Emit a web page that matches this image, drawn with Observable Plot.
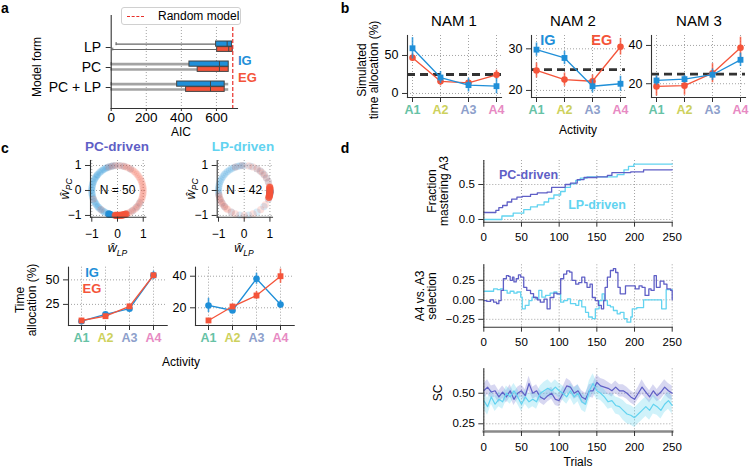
<!DOCTYPE html>
<html><head><meta charset="utf-8">
<script src="https://cdn.jsdelivr.net/npm/d3@7"></script>
<script src="https://cdn.jsdelivr.net/npm/@observablehq/plot@0.6"></script>
<style>
body{margin:0;background:#fff;}
#root{position:relative;width:750px;height:468px;overflow:hidden;background:#fff;font-family:"Liberation Sans",Arial,Helvetica,sans-serif;color:#000;}
.lbl{position:absolute;white-space:nowrap;line-height:1.05;}
</style></head><body><div id="root"></div>
<script>
// ---------------- DATA ----------------
// Panel a: AIC box statistics per model form
const models = ["LP", "PC", "PC + LP"];
const aicIG_lo  = [28, 0, 0];
const aicIG_q1  = [598, 446, 376];
const aicIG_med = [661, 617, 566];
const aicIG_q3  = [689, 670, 647];
const aicIG_hi  = [689, 670, 670];
const aicEG_lo  = [9, 0, 0];
const aicEG_q1  = [604, 493, 427];
const aicEG_med = [670, 617, 566];
const aicEG_q3  = [693, 670, 647];
const aicEG_hi  = [693, 670, 670];
const aicTicks = [0, 200, 400, 600];
const randomModelAIC = 693;

// Panel b: simulated time allocation (%) for NAM 1-3
const activities = ["A1", "A2", "A3", "A4"];
const activityColors = ["#66c2a5", "#cdd15c", "#8da0cb", "#e78ac3"];
const namTitles = ["NAM 1", "NAM 2", "NAM 3"];
const namIG    = [[59.5, 21, 11, 9.6], [29.8, 27.8, 21, 21.6], [21.7, 22.4, 24.7, 32.5]];
const namIGerr = [[14, 8, 9, 10], [1.6, 1.6, 1.6, 1.8], [2.5, 2, 3, 3.5]];
const namEG    = [[47, 16, 14, 24.6], [24.8, 22.6, 22.2, 30.5], [18.6, 19, 25.5, 38.8]];
const namEGerr = [[5, 6, 4, 6], [1.8, 1.6, 1.5, 2], [5, 5, 5, 5.5]];
const namYTicks = [[0, 50], [20, 30], [20, 40]];
const chanceLevel = 25;

// Panel c (top): normalized weights, angles in degrees on the unit circle
const pcRingIG = [60, 75, 85, 95, 100, 104, 108, 112, 115, 118, 122, 125, 128, 132, 135, 140, 142, 145, 148, 152, 155, 160, 162, 166, 170, 174, 178, 180, 185, 188, 192, 196, 200, 205, 208, 212, 215, 220, 222, 226, 230, 234, 238, 240, 245, 262, 268, 275, 290, 305, 318, 330];
const pcRingEG = [0, 5, 10, 15, 20, 25, 30, 35, 40, 45, 50, 55, 60, 65, 70, 75, 80, 88, 95, 102, 110, -5, -10, -15, -20, -25, -30, -35, -40, -45, -50, -55, -60, -65, -70, 200, 230, 250];
const pcClusterIG = [250, 252, 254];
const pcClusterEG = [265, 268, 271, 274, 277, 280, 283, 286, 289];
const lpRingIG = [20, 30, 40, 50, 60, 75, 90, 95, 100, 105, 110, 115, 120, 125, 130, 135, 140, 145, 150, 155, 160, 165, 170, 175, 180, 185, 190, 200, 210, 220, 240, 260, 280, 300, 320, 340];
const lpRingEG = [10, 20, 30, 38, 45, 52, 60, 70, 80, 95, 110, 190, 195, 200, 205, 210, 215, 220, 225, 230, 240, 250, 270, 290, 310, 325, 340, 350];
const lpClusterIG = [352, 356, 359];
const lpClusterEG = [344, 348, 352, 356, 0, 4, 7];
const ringN = ["N = 50", "N = 42"];
const ringTicks = [-1, 0, 1];

// Panel c (bottom): time allocation (%) by group
const cIG    = [[7.9, 14.8, 20.6, 54.7], [21.5, 18.3, 38.4, 22.1]];
const cIGerr = [[1, 1, 1.5, 4], [4.5, 1.5, 3.5, 2.5]];
const cEG    = [[8.6, 13, 23, 54.7], [12, 20.8, 27.8, 40]];
const cEGerr = [[1, 1, 1.5, 2], [1, 1.5, 2.5, 4.5]];
const cYTicks = [[25, 50], [20, 40]];

// Panel d
const trialTicks = [0, 50, 100, 150, 200, 250];
const fracPC = [[0,0.10],[13,0.10],[16,0.13],[20,0.17],[25,0.20],[31,0.25],[37,0.29],[44,0.32],[51,0.33],[62,0.36],[71,0.38],[84,0.39],[90,0.46],[102,0.46],[108,0.50],[115,0.52],[124,0.57],[133,0.60],[150,0.61],[164,0.63],[170,0.67],[195,0.68],[212,0.71],[250,0.71]];
const fracLP = [[0,0],[23,0],[24,0.05],[39,0.09],[53,0.14],[62,0.18],[71,0.21],[80,0.25],[86,0.30],[93,0.35],[102,0.40],[108,0.46],[115,0.51],[122,0.56],[128,0.59],[137,0.61],[150,0.61],[168,0.61],[177,0.64],[186,0.71],[192,0.76],[199,0.79],[250,0.79]];
const selPC = [[0,-0.01],[4,-0.02],[9,0.0],[13,-0.03],[17,-0.05],[20,-0.01],[23,0.12],[26,0.27],[30,0.31],[33,0.30],[35,0.25],[38,0.29],[40,0.23],[43,0.27],[46,0.32],[49,0.29],[53,0.16],[57,0.12],[62,0.08],[66,0.03],[71,0.0],[75,-0.03],[80,0.01],[84,-0.115],[88,0.03],[93,0.085],[97,0.077],[102,0.27],[106,0.33],[110,0.37],[114,0.355],[117,0.25],[122,0.2],[126,0.22],[130,0.29],[134,0.22],[137,0.16],[141,0.2],[144,0.03],[148,-0.01],[152,-0.07],[156,-0.115],[159,-0.01],[161,0.16],[164,0.29],[168,0.376],[172,0.40],[175,0.35],[178,0.16],[181,0.077],[185,0.077],[188,0.18],[197,0.18],[201,0.14],[206,0.18],[210,0.16],[214,0.056],[219,0.14],[222,0.12],[226,0.31],[229,0.16],[234,0.24],[239,0.2],[243,0.14],[248,0.12],[250,0.0]];
const selLP = [[0,0.11],[13,0.14],[18,0.13],[22,0.14],[26,0.12],[31,0.085],[35,0.11],[40,0.085],[44,0.1],[49,0.034],[51,-0.115],[55,-0.07],[60,-0.01],[64,0.034],[69,0.013],[73,0.12],[77,0.034],[82,0.056],[88,0.085],[93,0.1],[97,0.077],[102,-0.03],[106,-0.01],[111,0.013],[115,-0.05],[122,-0.07],[126,-0.01],[130,-0.09],[135,-0.16],[139,-0.22],[144,-0.24],[148,-0.115],[153,-0.01],[157,0.077],[160,-0.01],[164,-0.07],[168,-0.09],[172,-0.137],[177,-0.18],[181,-0.16],[186,-0.24],[190,-0.286],[195,-0.22],[197,-0.115],[203,-0.1],[211,-0.1],[212,0],[235,0],[236,-0.115],[241,-0.115],[242,0.13],[250,0.13]];
const scTrials = [0,5,10,15,20,25,30,35,40,45,50,55,60,65,70,75,80,85,90,95,100,105,110,115,120,125,130,135,140,145,150,155,160,165,170,175,180,185,190,195,200,205,210,215,220,225,230,235,240,245,250];
const scPC = [0.52,0.55,0.51,0.52,0.47,0.51,0.47,0.52,0.45,0.50,0.52,0.48,0.58,0.50,0.52,0.47,0.45,0.48,0.50,0.45,0.44,0.50,0.56,0.55,0.50,0.52,0.47,0.45,0.52,0.52,0.59,0.56,0.55,0.54,0.52,0.55,0.52,0.52,0.50,0.47,0.45,0.50,0.55,0.51,0.47,0.52,0.48,0.51,0.55,0.52,0.50];
const scLP = [0.44,0.39,0.47,0.41,0.45,0.43,0.50,0.47,0.52,0.47,0.41,0.47,0.43,0.45,0.43,0.50,0.52,0.54,0.52,0.55,0.52,0.50,0.47,0.52,0.47,0.50,0.43,0.41,0.52,0.58,0.52,0.50,0.47,0.43,0.44,0.40,0.39,0.36,0.33,0.32,0.30,0.33,0.36,0.39,0.36,0.41,0.39,0.36,0.41,0.44,0.40];
const scSpreadPC = [0.06,0.06,0.05,0.05,0.05,0.05,0.05,0.05,0.05,0.05,0.05,0.05,0.06,0.05,0.05,0.05,0.05,0.05,0.05,0.05,0.05,0.05,0.06,0.05,0.05,0.05,0.05,0.05,0.05,0.06,0.06,0.06,0.06,0.05,0.05,0.05,0.05,0.05,0.05,0.05,0.05,0.05,0.06,0.05,0.05,0.05,0.05,0.06,0.06,0.06,0.06];
const scSpreadLP = [0.07,0.07,0.06,0.06,0.06,0.06,0.06,0.06,0.06,0.06,0.06,0.06,0.06,0.06,0.06,0.06,0.07,0.07,0.06,0.06,0.06,0.06,0.06,0.06,0.07,0.07,0.07,0.07,0.08,0.08,0.07,0.06,0.06,0.06,0.06,0.07,0.07,0.08,0.08,0.08,0.08,0.08,0.08,0.08,0.08,0.08,0.07,0.07,0.07,0.07,0.07];

// ---------------- STYLE ----------------
const W = 750, H = 468;
const FONT = '"Liberation Sans", Arial, Helvetica, sans-serif';
const IG_COLOR = "#1f8fd8", EG_COLOR = "#f4543a";
const PC_COLOR = "#5f5fc6", LP_COLOR = "#62d3f0";
const SPINE = "#333";
const GRID = {stroke: "#999", strokeOpacity: 1, strokeDasharray: "1,2", strokeWidth: 0.9};
const root = document.getElementById("root");

function frameBox(x0, y0, x1, y1) {
  return {width: W, height: H, marginLeft: x0, marginRight: W - x1, marginTop: y0, marginBottom: H - y1,
    style: {fontFamily: FONT, fontSize: "12px", background: "transparent", overflow: "visible"}};
}
function add(svg) {
  svg.style.position = "absolute"; svg.style.left = "0px"; svg.style.top = "0px";
  svg.style.background = "transparent";
  root.appendChild(svg);
}
function spines() {
  return [Plot.frame({anchor: "left", stroke: SPINE, strokeWidth: 1.1}), Plot.frame({anchor: "bottom", stroke: SPINE, strokeWidth: 1.1})];
}
function label(html, x, y, o = {}) {
  const d = document.createElement("div");
  d.className = "lbl";
  d.innerHTML = html;
  const tx = o.anchor === "start" ? "0" : o.anchor === "end" ? "-100%" : "-50%";
  d.style.left = x + "px"; d.style.top = y + "px";
  d.style.fontSize = (o.size || 11.5) + "px";
  d.style.fontWeight = o.weight || "normal";
  d.style.color = o.color || "#000";
  d.style.textAlign = "center";
  if (o.lh) d.style.lineHeight = o.lh + "px";
  d.style.transform = `translate(${tx},-50%) rotate(${o.rotate || 0}deg)`;
  root.appendChild(d);
}

// ---------------- PANEL a ----------------
const aIG = models.map((m, i) => ({model: m, lo: aicIG_lo[i], q1: aicIG_q1[i], med: aicIG_med[i], q3: aicIG_q3[i], hi: aicIG_hi[i]}));
const aEG = models.map((m, i) => ({model: m, lo: aicEG_lo[i], q1: aicEG_q1[i], med: aicEG_med[i], q3: aicEG_q3[i], hi: aicEG_hi[i]}));
const whiskW = d => d.model === "LP" ? 1.1 : 2.6;
const whiskC = d => d.model === "LP" ? "#666" : "#a3a3a3";
function boxMarks(rows, fill, dy, insetTop, insetBottom) {
  return [
    Plot.ruleY(rows, {y: "model", x1: "lo", x2: "q1", dy, stroke: whiskC, strokeWidth: whiskW}),
    Plot.ruleY(rows, {y: "model", x1: "q3", x2: "hi", dy, stroke: whiskC, strokeWidth: whiskW}),
    Plot.tickX(rows, {x: "lo", y: "model", stroke: "#666", strokeWidth: 1, insetTop: insetTop + 1, insetBottom: insetBottom + 1}),
    Plot.barX(rows, {x1: "q1", x2: "q3", y: "model", fill, stroke: "#444", strokeWidth: 1, insetTop, insetBottom}),
    Plot.tickX(rows, {x: "med", y: "model", stroke: "#444", strokeWidth: 1, insetTop, insetBottom})
  ];
}
add(Plot.plot({
  ...frameBox(110.7, 15, 237, 108),
  x: {domain: [0, 720], axis: null},
  y: {type: "band", domain: models, range: [36.5, 97.5], padding: 0, axis: null},
  marks: [
    Plot.gridX({ticks: aicTicks.slice(1), ...GRID}),
    ...boxMarks(aIG, IG_COLOR, -3.4, 4, 10.8),
    ...boxMarks(aEG, EG_COLOR, 2.0, 9.6, 5.6),
    Plot.ruleX([randomModelAIC], {stroke: "#e8302a", strokeWidth: 1.2, strokeDasharray: "4,2"}),
    ...spines(),
    Plot.axisX({ticks: aicTicks, tickSize: 3, tickPadding: 1, fontSize: 13.5, stroke: SPINE, label: null}),
    Plot.axisY({tickSize: 5, tickPadding: 5, fontSize: 14, stroke: SPINE, label: null})
  ]
}));

// ---------------- PANEL b ----------------
function activityPlot({x0, y0, x1, y1, ydom, yticks, ig, igErr, eg, egErr, igSym, egSym, chance, pad, egOnTop, labelDy}) {
  const igRows = activities.map((a, i) => ({a, v: ig[i], lo: ig[i] - igErr[i], hi: ig[i] + igErr[i]}));
  const egRows = activities.map((a, i) => ({a, v: eg[i], lo: eg[i] - egErr[i], hi: eg[i] + egErr[i]}));
  const series = (rows, color, sym) => [
    Plot.ruleX(rows, {x: "a", y1: "lo", y2: "hi", stroke: color, strokeWidth: 1.6, strokeOpacity: 0.85}),
    Plot.line(rows, {x: "a", y: "v", stroke: color, strokeWidth: 1.3}),
    Plot.dot(rows, {x: "a", y: "v", fill: color, symbol: sym, r: 3.3})
  ];
  const marks = [Plot.gridX({...GRID}), Plot.gridY({ticks: yticks, ...GRID})];
  if (chance != null) marks.push(Plot.ruleY([chance], {stroke: "#333", strokeWidth: 2.8, strokeDasharray: "8,5"}));
  if (egOnTop) marks.push(...series(igRows, IG_COLOR, igSym), ...series(egRows, EG_COLOR, egSym));
  else marks.push(...series(egRows, EG_COLOR, egSym), ...series(igRows, IG_COLOR, igSym));
  marks.push(
    ...spines(),
    Plot.axisY({ticks: yticks, tickSize: 5, tickPadding: 4, fontSize: 12.5, stroke: SPINE, label: null}),
    Plot.axisX({tickSize: 5, tickFormat: () => "", stroke: SPINE, label: null}),
    Plot.text(activities, {x: d => d, text: d => d, fill: (d, i) => activityColors[i], frameAnchor: "bottom", dy: labelDy, fontSize: 12.5, fontWeight: "bold"})
  );
  return Plot.plot({
    ...frameBox(x0, y0, x1, y1),
    x: {type: "point", domain: activities, padding: pad, axis: null, label: null},
    y: {domain: ydom, axis: null, label: null},
    marks
  });
}
const namFrames = [[407, 501, [-5.3, 76.3]], [531, 625, [18.3, 33.2]], [651, 745, [12.8, 45.2]]];
namFrames.forEach(([x0, x1, ydom], k) => {
  add(activityPlot({x0, y0: 35, x1, y1: 97, ydom, yticks: namYTicks[k], ig: namIG[k], igErr: namIGerr[k], eg: namEG[k], egErr: namEGerr[k],
    igSym: "square", egSym: "circle", chance: chanceLevel, pad: 0.15, egOnTop: false, labelDy: 16}));
});

// ---------------- PANEL c (top) ----------------
function ringPlot(x0, x1, ringIG, ringEG, clusterIG, clusterEG, nText) {
  const pts = arr => arr.map(a => ({x: Math.cos(a * Math.PI / 180), y: Math.sin(a * Math.PI / 180)}));
  return Plot.plot({
    ...frameBox(x0, 160, x1, 216.7),
    x: {domain: [-1.05, 1.1], axis: null, label: null},
    y: {domain: [-1.07, 1.2], axis: null, label: null},
    marks: [
      Plot.gridX({ticks: ringTicks, ...GRID}),
      Plot.gridY({ticks: ringTicks, ...GRID}),
      Plot.dot(pts(ringIG), {x: "x", y: "y", r: 3.6, fill: IG_COLOR, fillOpacity: 0.17}),
      Plot.dot(pts(ringEG), {x: "x", y: "y", r: 3.6, fill: EG_COLOR, fillOpacity: 0.17}),
      Plot.dot(pts(clusterIG), {x: "x", y: "y", r: 3.6, fill: IG_COLOR, fillOpacity: 0.85}),
      Plot.dot(pts(clusterEG), {x: "x", y: "y", r: 3.6, fill: EG_COLOR, fillOpacity: 0.85}),
      Plot.text([nText], {x: 0, y: 0, text: d => d, fontSize: 12}),
      ...spines(),
      Plot.axisX({ticks: ringTicks, tickFormat: "d", tickSize: 5, tickPadding: 7, fontSize: 12, stroke: SPINE, label: null}),
      Plot.axisY({ticks: ringTicks, tickFormat: "d", tickSize: 5, tickPadding: 4, fontSize: 12, stroke: SPINE, label: null})
    ]
  });
}
add(ringPlot(90, 145.3, pcRingIG, pcRingEG, pcClusterIG, pcClusterEG, ringN[0]));
add(ringPlot(216.7, 272, lpRingIG, lpRingEG, lpClusterIG, lpClusterEG, ringN[1]));

// ---------------- PANEL c (bottom) ----------------
add(activityPlot({x0: 68, y0: 266.7, x1: 166.7, y1: 325, ydom: [3.5, 62.9], yticks: cYTicks[0], ig: cIG[0], igErr: cIGerr[0], eg: cEG[0], egErr: cEGerr[0],
  igSym: "circle", egSym: "square", chance: null, pad: 0.5, egOnTop: true, labelDy: 16.7}));
add(activityPlot({x0: 195, y0: 266.7, x1: 293.7, y1: 325, ydom: [8.8, 45.7], yticks: cYTicks[1], ig: cIG[1], igErr: cIGerr[1], eg: cEG[1], egErr: cEGerr[1],
  igSym: "circle", egSym: "square", chance: null, pad: 0.5, egOnTop: true, labelDy: 16.7}));

// ---------------- PANEL d ----------------
function dPlot(y0, y1, ydom, yticks, fmt, marks, bottomThick) {
  return Plot.plot({
    ...frameBox(483.3, y0, 671.7, y1),
    x: {domain: [0, 250], axis: null, label: null},
    y: {domain: ydom, axis: null, label: null},
    marks: [
      Plot.gridX({ticks: trialTicks, ...GRID}),
      Plot.gridY({ticks: yticks, ...GRID}),
      ...marks,
      Plot.frame({anchor: "left", stroke: SPINE, strokeWidth: 1.1}),
      bottomThick ? Plot.frame({anchor: "bottom", stroke: "#8a8a8a", strokeWidth: 2.6}) : Plot.frame({anchor: "bottom", stroke: SPINE, strokeWidth: 1.1}),
      Plot.axisX({ticks: trialTicks, tickSize: 5, tickPadding: 6, fontSize: 11.5, stroke: SPINE, label: null}),
      Plot.axisY({ticks: yticks, tickFormat: fmt, tickSize: 5, tickPadding: 4, fontSize: 11.5, stroke: SPINE, label: null})
    ]
  });
}
const stepOpts = (c) => ({x: d => d[0], y: d => d[1], stroke: c, strokeWidth: 1.3, curve: "step-after"});
add(dPlot(160, 221.7, [-0.0386, 0.843], [0, 0.5], ".1f", [
  Plot.line(fracLP, stepOpts(LP_COLOR)),
  Plot.line(fracPC, stepOpts(PC_COLOR))
]));
add(dPlot(264.3, 326.7, [-0.351, 0.449], [-0.25, 0, 0.25], ".2f", [
  Plot.line(selLP, stepOpts(LP_COLOR)),
  Plot.line(selPC, stepOpts(PC_COLOR))
]));
const scRowsPC = scTrials.map((t, i) => ({t, v: scPC[i], lo: scPC[i] - scSpreadPC[i], hi: scPC[i] + scSpreadPC[i]}));
const scRowsLP = scTrials.map((t, i) => ({t, v: scLP[i], lo: scLP[i] - scSpreadLP[i], hi: scLP[i] + scSpreadLP[i]}));
add(dPlot(368.3, 431, [0.187, 0.70], [0.25, 0.5], ".2f", [
  Plot.areaY(scRowsPC, {x: "t", y1: "lo", y2: "hi", fill: PC_COLOR, fillOpacity: 0.25}),
  Plot.areaY(scRowsLP, {x: "t", y1: "lo", y2: "hi", fill: LP_COLOR, fillOpacity: 0.3}),
  Plot.line(scRowsPC, {x: "t", y: "v", stroke: PC_COLOR, strokeWidth: 1.2}),
  Plot.line(scRowsLP, {x: "t", y: "v", stroke: LP_COLOR, strokeWidth: 1.2})
], true));

// ---------------- TEXT ----------------
// panel letters
label("a", 5, 8, {size: 14, weight: "bold"});
label("b", 345, 8, {size: 14, weight: "bold"});
label("c", 5, 148, {size: 14, weight: "bold"});
label("d", 345, 148, {size: 14, weight: "bold"});
// panel a
const leg = document.createElement("div");
leg.style.cssText = "position:absolute;left:121px;top:6.5px;width:120px;height:18px;border:1px solid #d0d0d0;border-radius:3px;box-sizing:border-box;background:#fff;";
leg.innerHTML = '<div style="position:absolute;left:5px;top:8px;width:17px;border-top:1.3px dashed #e8302a;"></div><div style="position:absolute;left:36px;top:1.5px;font-size:12px;">Random model</div>';
root.appendChild(leg);
label("Model form", 36.7, 66.7, {size: 12, rotate: -90});
label("AIC", 181, 132, {size: 12});
label("IG", 238, 61, {size: 13, weight: "bold", color: IG_COLOR, anchor: "start"});
label("EG", 238, 77.5, {size: 13, weight: "bold", color: EG_COLOR, anchor: "start"});
// panel b
label(namTitles[0], 454, 21, {size: 15});
label(namTitles[1], 573, 21, {size: 15});
label(namTitles[2], 699, 21, {size: 15});
label("Simulated<br>time allocation (%)", 367.5, 70, {size: 12, rotate: -90, lh: 12});
label("Activity", 578, 130, {size: 12});
label("IG", 548, 41, {size: 14.5, weight: "bold", color: IG_COLOR});
label("EG", 601.7, 41, {size: 14.5, weight: "bold", color: EG_COLOR});
// panel c
label("PC-driven", 117, 147, {size: 13.5, weight: "bold", color: PC_COLOR});
label("LP-driven", 243, 147, {size: 13.5, weight: "bold", color: LP_COLOR});
const wPC = '<i>ŵ</i><sub style="font-size:8.5px"><i>PC</i></sub>';
const wLP = '<i>ŵ</i><sub style="font-size:8.5px"><i>LP</i></sub>';
label(wPC, 66, 189, {size: 13, rotate: -90});
label(wPC, 192, 189, {size: 13, rotate: -90});
label(wLP, 117.5, 250, {size: 12.5});
label(wLP, 244, 250, {size: 12.5});
label("IG", 92, 273, {size: 13, weight: "bold", color: IG_COLOR});
label("EG", 92, 288.5, {size: 13, weight: "bold", color: EG_COLOR});
label("Time<br>allocation (%)", 26, 300, {size: 12, rotate: -90, lh: 12});
label("Activity", 181, 362, {size: 12});
// panel d
label("PC-driven", 528.5, 176, {size: 12.5, weight: "bold", color: PC_COLOR});
label("LP-driven", 597, 206, {size: 12.5, weight: "bold", color: LP_COLOR});
label("Fraction<br>mastering A3", 437.5, 191, {size: 12, rotate: -90, lh: 12});
label("A4 vs. A3<br>selection", 425.5, 296, {size: 12, rotate: -90, lh: 12});
label("SC", 437.5, 393, {size: 12, rotate: -90});
label("Trials", 578, 462, {size: 12});
</script></body></html>
